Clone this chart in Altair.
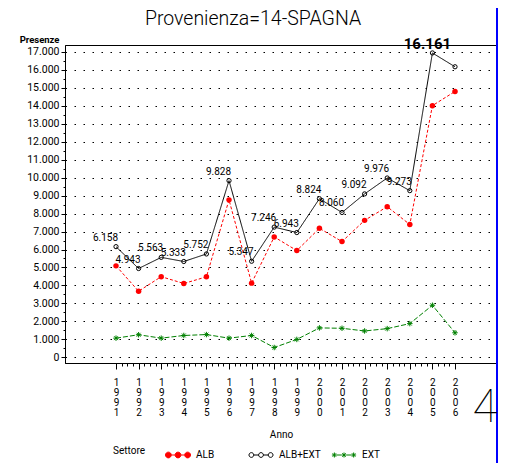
import altair as alt
import pandas as pd
import numpy as np

anni = list(range(1991, 2007))
serie = ["ALB", "ALB+EXT", "EXT"]
alb = [5090, 3680, 4490, 4110, 4480, 8760, 4130, 6700, 5940, 7180, 6440, 7620, 8380, 7390, 14000, 14790]
ext = [1070, 1260, 1070, 1220, 1270, 1070, 1220, 550, 1000, 1640, 1620, 1470, 1600, 1880, 2900, 1370]
tot = [6158, 4943, 5563, 5333, 5752, 9828, 5347, 7246, 6943, 8824, 8060, 9092, 9976, 9273, 16930, 16161]
colori = ["#ff0000", "#000000", "#008000"]
titolo = "Provenienza=14-SPAGNA"

rows = []
for s, vals in zip(serie, [alb, tot, ext]):
    for a, v in zip(anni, vals):
        rows.append({"Anno": a, "Settore": s, "Presenze": v})
df = pd.DataFrame(rows)

FONT = "Roboto"

xscale = alt.Scale(domain=[1988.743, 2007.858], nice=False, zero=False)
yscale = alt.Scale(domain=[-311, 17372], nice=False, zero=False)

x_ticks = [float(v) for v in np.arange(1991, 2006.01, 0.25)]
y_ticks = list(range(0, 17001, 500))

x_enc = alt.X("Anno:Q", scale=xscale, title="Anno",
              axis=alt.Axis(values=x_ticks, tickCount=500, grid=False,
                            labelExpr="datum.value % 1 == 0 ? split(toString(datum.value), '') : ''",
                            labelOverlap=False, labelFlush=False, labelBaseline="top",
                            labelLineHeight=10, labelFontSize=10, labelFont=FONT,
                            labelPadding=8, labelColor="black",
                            tickSize={"condition": {"test": "datum.value % 1 == 0", "value": 6}, "value": 3},
                            tickColor="black", domainColor="black",
                            titleFont=FONT, titleFontSize=10, titleFontWeight="normal",
                            titleColor="black", titlePadding=12))
y_enc = alt.Y("Presenze:Q", scale=yscale, title="Presenze",
              axis=alt.Axis(values=y_ticks, tickCount=500,
                            labelExpr="datum.value % 1000 == 0 ? replace(format(datum.value, ','), ',', '.') : ''",
                            labelOverlap=False, labelFlush=False, labelFontSize=10.5, labelFont=FONT,
                            labelPadding=2, labelColor="black",
                            tickSize={"condition": {"test": "datum.value % 1000 == 0", "value": 4}, "value": 2},
                            grid=True, gridDash=[1.5, 7.5], gridColor="black",
                            gridOpacity={"condition": {"test": "datum.value % 1000 == 0", "value": 1}, "value": 0},
                            tickColor="black", domainColor="black",
                            titleAngle=0, titleAlign="right", titleBaseline="bottom",
                            titleX=-6, titleY=-1, titleFont=FONT, titleFontSize=9.5,
                            titleFontWeight="bold", titleColor="black"))

base = alt.Chart(df)

lines = base.mark_line(strokeWidth=1).encode(
    x=x_enc, y=y_enc,
    color=alt.Color("Settore:N", scale=alt.Scale(domain=serie, range=colori), legend=None),
    strokeDash=alt.StrokeDash("Settore:N", scale=alt.Scale(domain=serie, range=[[3, 2], [1, 0], [5, 2]]), legend=None),
)

star_path = "M-1,0L1,0M0,-1L0,1M-0.7,-0.7L0.7,0.7M-0.7,0.7L0.7,-0.7"

pts_alb = base.transform_filter("datum.Settore == 'ALB'").mark_point(
    shape="circle", filled=True, color="#ff0000", size=30, opacity=1).encode(x="Anno:Q", y="Presenze:Q")
pts_tot = base.transform_filter("datum.Settore == 'ALB+EXT'").mark_point(
    shape="circle", filled=False, color="#000000", size=18, strokeWidth=1, opacity=1).encode(x="Anno:Q", y="Presenze:Q")
pts_ext = base.transform_filter("datum.Settore == 'EXT'").mark_point(
    shape=star_path, filled=False, color="#008000", size=30, strokeWidth=1, opacity=1).encode(x="Anno:Q", y="Presenze:Q")

lab_expr = "replace(format(datum.Presenze, ','), ',', '.')"
labels = base.transform_filter("datum.Settore == 'ALB+EXT' && datum.Anno < 2005").transform_calculate(
    lab=lab_expr).mark_text(align="right", baseline="bottom", dx=2, dy=-4, fontSize=10,
                            font=FONT, color="black").encode(x="Anno:Q", y="Presenze:Q", text="lab:N")

top_labels = base.transform_filter("datum.Settore == 'ALB+EXT' && datum.Anno == 2006").transform_calculate(
    lab=lab_expr, ax="2005").mark_text(align="center", baseline="middle", dx=-5, fontSize=15,
                                       font=FONT, fontWeight="bold", color="black").encode(
    x="ax:Q", y=alt.value(-1), text="lab:N")


def circ(cx, r):
    return f"M{cx - r},0A{r},{r} 0 1,0 {cx + r},0A{r},{r} 0 1,0 {cx - r},0Z"


def star(cx, r):
    d = r * 0.7
    return (f"M{cx - r},0L{cx + r},0M{cx},{-r}L{cx},{r}"
            f"M{cx - d},{-d}L{cx + d},{d}M{cx - d},{d}L{cx + d},{-d}")


segs = "M-0.54,0L-0.23,0M0.23,0L0.54,0"
leg_circle = circ(-0.77, 0.23) + segs + circ(0, 0.23) + circ(0.77, 0.23)
leg_open = circ(-0.77, 0.19) + "M-0.58,0L-0.19,0M0.19,0L0.58,0" + circ(0, 0.19) + circ(0.77, 0.19)
leg_star = star(-0.77, 0.2) + "M-0.57,0L-0.2,0M0.2,0L0.57,0" + star(0, 0.2) + star(0.77, 0.2)

leg = alt.Legend(title="Settore", orient="none", direction="horizontal", titleOrient="left",
                 legendX=48, legendY=397, symbolSize=625, symbolStrokeWidth=1,
                 labelFont=FONT, labelFontSize=10, titleFont=FONT, titleFontSize=10,
                 titleFontWeight="normal", gridAlign="all", columnPadding=8, labelOffset=5,
                 titlePadding=20, labelColor="black", titleColor="black")

legend_layer = base.transform_filter("datum.Anno < 0").mark_point(filled=True, opacity=1).encode(
    x="Anno:Q", y="Presenze:Q",
    shape=alt.Shape("Settore:N", scale=alt.Scale(domain=serie, range=[leg_circle, leg_open, leg_star]), legend=leg),
    fill=alt.Fill("Settore:N", scale=alt.Scale(domain=serie, range=["#ff0000", "transparent", "#008000"]), legend=leg),
    stroke=alt.Stroke("Settore:N", scale=alt.Scale(domain=serie, range=colori), legend=leg),
)

one = pd.DataFrame({"k": [0]})
border = alt.Chart(one).mark_rule(color="#0000ff", strokeWidth=2).encode(
    x=alt.value(432), y=alt.value(-37), y2=alt.value(420))
four = alt.Chart(one).mark_text(fontSize=46, font=FONT, fontWeight=100, align="center",
                                baseline="alphabetic", color="black").encode(
    x=alt.value(420), y=alt.value(377), text=alt.value("4"))
title_mark = alt.Chart(one).mark_text(fontSize=19.5, font=FONT, fontWeight=300, align="center",
                                      baseline="alphabetic", color="black").encode(
    x=alt.value(188), y=alt.value(-20), text=alt.value(titolo))

chart = alt.layer(lines, pts_alb, pts_tot, pts_ext, labels, top_labels, legend_layer,
                  border, four, title_mark).resolve_scale(
    shape="independent", fill="independent", stroke="independent", color="independent"
).properties(
    width=432, height=318,
    autosize=alt.AutoSizeParams(type="none"),
    padding={"left": 57, "top": 37, "right": 2, "bottom": 100},
).configure_view(stroke="black", strokeWidth=1).configure_axis(domainWidth=1, tickWidth=1)

chart.save("out.html", embed_options={"renderer": "svg", "actions": False})
